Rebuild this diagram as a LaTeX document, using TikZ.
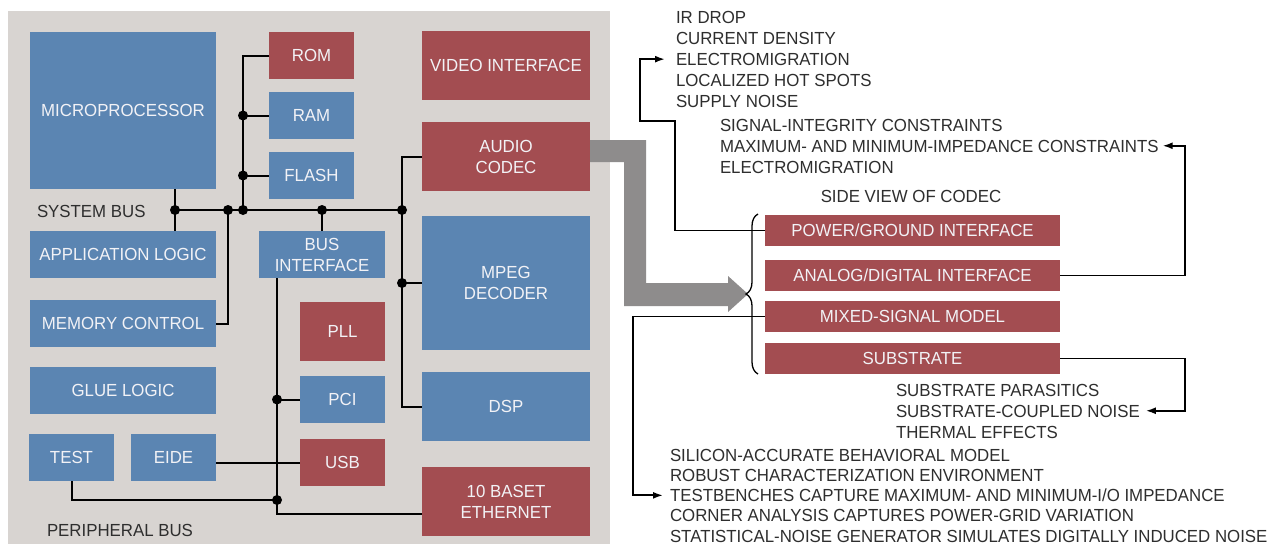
\documentclass[tikz,border=0pt]{standalone}
\usepackage{fontspec}
\setmainfont{Liberation Sans}[FakeStretch=0.962]
\usetikzlibrary{arrows.meta,decorations.pathreplacing}
\definecolor{bgc}{HTML}{D8D4D1}
\definecolor{bluec}{HTML}{5B85B2}
\definecolor{redc}{HTML}{A34D51}
\definecolor{grayarr}{HTML}{8E8C8C}
\definecolor{boxtext}{HTML}{F2F2F6}
\definecolor{txt}{HTML}{2E2E2E}
\newcommand{\diafont}{\fontsize{17.5}{21}\selectfont}
\begin{document}
\begin{tikzpicture}[x=1pt,y=-1pt,
  box/.style={inner sep=0pt,outer sep=0pt,text=boxtext,align=center,font=\diafont},
  bbox/.style={box,fill=bluec},
  rbox/.style={box,fill=redc},
  lbl/.style={inner sep=0pt,outer sep=0pt,anchor=base west,text height=12.5pt,text depth=0pt,text=txt,font=\diafont},
  bus/.style={line width=2pt,black},
  arr/.style={line width=1.8pt,black,-{Latex[length=10pt,width=7pt]}},
  jdot/.style={fill=black}]
\useasboundingbox (0,0) rectangle (1268,544);
\fill[white] (0,0) rectangle (1268,544);
\fill[bgc] (8,11) rectangle (610,544);

% left blocks
\node[bbox,minimum width=186pt,minimum height=157pt] (mp) at (123,110.5) {MICROPROCESSOR};
\node[rbox,minimum width=85pt,minimum height=47pt] (rom) at (311.5,55.5) {ROM};
\node[bbox,minimum width=85pt,minimum height=47pt] (ram) at (311.5,115.5) {RAM};
\node[bbox,minimum width=85pt,minimum height=47pt] (flash) at (311.5,175.5) {FLASH};
\node[bbox,minimum width=186pt,minimum height=47pt] (app) at (123,254.5) {APPLICATION LOGIC};
\node[bbox,minimum width=126pt,minimum height=47pt] (busif) at (322,254.5) {BUS\\INTERFACE};
\node[bbox,minimum width=186pt,minimum height=47pt] (memc) at (123,323.5) {MEMORY CONTROL};
\node[bbox,minimum width=186pt,minimum height=47pt] (glue) at (123,390.5) {GLUE LOGIC};
\node[bbox,minimum width=85pt,minimum height=47pt] (test) at (71.5,457.5) {TEST};
\node[bbox,minimum width=85pt,minimum height=47pt] (eide) at (173.5,457.5) {EIDE};
\node[rbox,minimum width=85pt,minimum height=59pt] (pll) at (342.5,331.5) {PLL};
\node[bbox,minimum width=85pt,minimum height=47pt] (pci) at (342.5,399.5) {PCI};
\node[rbox,minimum width=85pt,minimum height=47pt] (usb) at (342.5,462.5) {USB};
\node[rbox,minimum width=168pt,minimum height=69pt] (video) at (506,65.5) {VIDEO INTERFACE};
\node[rbox,minimum width=168pt,minimum height=69pt] (codec) at (506,156.5) {AUDIO\\CODEC};
\node[bbox,minimum width=168pt,minimum height=134pt] (mpeg) at (506,283) {MPEG\\DECODER};
\node[bbox,minimum width=168pt,minimum height=69pt] (dsp) at (506,406.5) {DSP};
\node[rbox,minimum width=168pt,minimum height=69pt] (eth) at (506,501.5) {10 BASET\\ETHERNET};

\node[lbl] (sysbus) at (37,217) {SYSTEM BUS};
\node[lbl] (perbus) at (47,536) {PERIPHERAL BUS};

% bus junctions
\coordinate (j1) at (175,210);
\coordinate (j2) at (228,210);
\coordinate (j3) at (243,210);
\coordinate (j4) at (322,210);
\coordinate (j5) at (402,210);
\coordinate (pb) at (277,514);
\coordinate (pt) at (277,500);

% system bus
\draw[bus] (mp.south -| j1) -- (app.north -| j1);
\draw[bus] (j1) -- (j5);
\draw[bus] (j2) |- (memc.east);
\draw[bus] (rom.west) -| (j3);
\draw[bus] (ram.west -| j3) -- (ram.west);
\draw[bus] (flash.west -| j3) -- (flash.west);
\draw[bus] (j4) -- (busif.north);
\draw[bus] (codec.west) -| (j5) |- (dsp.west);
\draw[bus] (mpeg.west -| j5) -- (mpeg.west);
% peripheral bus
\draw[bus] (busif.south -| pb) -- (pb) -- (pb -| eth.west);
\draw[bus] (pci.west -| pb) -- (pci.west);
\draw[bus] (test.south) |- (pt);
\draw[bus] (usb.west -| eide.east) -- (usb.west);

\foreach \p in {j1,j2,j3,j4,j5} \fill[jdot] (\p) circle (5pt);
\fill[jdot] (ram.west -| j3) circle (5pt);
\fill[jdot] (flash.west -| j3) circle (5pt);
\fill[jdot] (mpeg.west -| j5) circle (5pt);
\fill[jdot] (pci.west -| pb) circle (5pt);
\fill[jdot] (pt) circle (5pt);

% big gray arrow
\fill[grayarr] (590,140) -- (646,140) -- (646,283) -- (728,283) -- (728,276) -- (748,294)
  -- (728,312) -- (728,306) -- (624,306) -- (624,162) -- (590,162) -- cycle;

% side view
\node[lbl,anchor=base] (side) at (911,202) {SIDE VIEW OF CODEC};
\node[rbox,minimum width=295pt,minimum height=31pt] (pg) at (912.5,230.5) {POWER/GROUND INTERFACE};
\node[rbox,minimum width=295pt,minimum height=31pt] (ad) at (912.5,275.5) {ANALOG/DIGITAL INTERFACE};
\node[rbox,minimum width=295pt,minimum height=31pt] (ms) at (912.5,316.5) {MIXED-SIGNAL MODEL};
\node[rbox,minimum width=295pt,minimum height=31pt] (sub) at (912.5,358.5) {SUBSTRATE};
\draw[decorate,decoration={brace,amplitude=12pt},line width=1.3pt] (758,374) -- (758,214);

% text lists
\foreach \t [count=\i] in {IR DROP,CURRENT DENSITY,ELECTROMIGRATION,LOCALIZED HOT SPOTS,SUPPLY NOISE}
  \node[lbl] (top\i) at (676,{23+21.2*(\i-1)}) {\t};
\foreach \t [count=\i] in {SIGNAL-INTEGRITY CONSTRAINTS,MAXIMUM- AND MINIMUM-IMPEDANCE CONSTRAINTS,ELECTROMIGRATION}
  \node[lbl] (cons\i) at (720,{131+21*(\i-1)}) {\t};
\foreach \t [count=\i] in {SUBSTRATE PARASITICS,SUBSTRATE-COUPLED NOISE,THERMAL EFFECTS}
  \node[lbl] (sn\i) at (896,{396+21*(\i-1)}) {\t};
\foreach \t [count=\i] in {SILICON-ACCURATE BEHAVIORAL MODEL,ROBUST CHARACTERIZATION ENVIRONMENT,TESTBENCHES CAPTURE MAXIMUM- AND MINIMUM-I/O IMPEDANCE,CORNER ANALYSIS CAPTURES POWER-GRID VARIATION,STATISTICAL-NOISE GENERATOR SIMULATES DIGITALLY INDUCED NOISE}
  \node[lbl] (bt\i) at (670,{461+20.3*(\i-1)}) {\t};

% arrows
\coordinate (c1) at (675,121);
\coordinate (c2) at (640,121);
\coordinate (rx) at (1185,0);
\coordinate (lx) at (633,0);
\draw[arr,shorten >=11pt] (pg.west) -| (c1) -- (c2) |- (top3.west);
\draw[arr,shorten >=4pt] (ad.east) -- (ad.east -| rx) |- (cons2.east);
\draw[arr,shorten >=6pt] (sub.east) -- (sub.east -| rx) |- (sn2.east);
\draw[arr,shorten >=7pt] (ms.west) -- (ms.west -| lx) |- (bt3.west);
\end{tikzpicture}
\end{document}
